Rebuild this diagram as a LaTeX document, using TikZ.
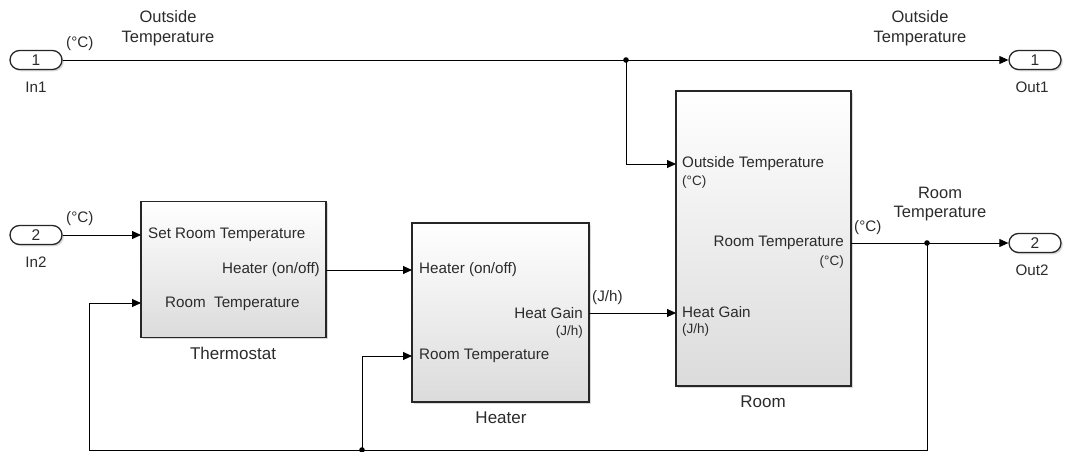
\documentclass[tikz,border=0pt]{standalone}
\usepackage{fontspec}
\setmainfont{Liberation Sans}
\usetikzlibrary{arrows.meta,shadows}
\definecolor{txt}{HTML}{2B2B2B}
\begin{document}
\begin{tikzpicture}[x=1pt,y=-1pt,
  shd/.style={drop shadow={shadow xshift=1.8pt,shadow yshift=-1.8pt,opacity=0.3}},
  blk/.style={draw=black!85, line width=1.2pt, top color=white, bottom color=black!14, shd, inner sep=0pt},
  pill/.style={draw=black!85, line width=1.3pt, rounded corners=9.5pt, minimum width=52pt, minimum height=19pt, fill=white, shd, inner sep=0pt, font=\fontsize{15.5}{15.5}\selectfont, text=txt},
  wire/.style={line width=0.9pt},
  sig/.style={wire, -{Triangle[length=9pt,width=8pt]}},
  port/.style={inner sep=0pt, text=txt, font=\fontsize{15.2}{17}\selectfont},
  unit/.style={inner sep=0pt, text=txt, font=\fontsize{13.5}{15}\selectfont},
  lbl/.style={inner sep=0pt, text=txt, align=center, font=\fontsize{16.5}{19.5}\selectfont},
  bname/.style={inner sep=0pt, text=txt, font=\fontsize{17}{19}\selectfont}]
\useasboundingbox (0,0) rectangle (1065,452);

% blocks
\node[blk, minimum width=185pt, minimum height=136pt] (thermo) at (233.5,269.5) {};
\node[blk, minimum width=177pt, minimum height=179pt] (heater) at (500.5,312.5) {};
\node[blk, minimum width=175pt, minimum height=295pt] (room) at (763.5,238.5) {};

% ports (pills)
\node[pill] (in1) at (36,60) {1};
\node[pill] (in2) at (36,235) {2};
\node[pill] (out1) at (1035,60) {1};
\node[pill] (out2) at (1035,243) {2};
\node[port] (in1l) at (36,87) {In1};
\node[port] (in2l) at (36,262) {In2};
\node[port] (out1l) at (1032,87) {Out1};
\node[port] (out2l) at (1032,270) {Out2};

% block names
\node[bname] (thermoname) at (233,353) {Thermostat};
\node[bname] (heatername) at (501,418) {Heater};
\node[bname] (roomname) at (763,402) {Room};

% port coordinates
\coordinate (pThSet) at (141,235);
\coordinate (pThOut) at (326,270);
\coordinate (pThRT) at (141,303);
\coordinate (pHtIn) at (412,270);
\coordinate (pHtOut) at (589,313);
\coordinate (pHtRT) at (412,356);
\coordinate (pRmOT) at (676,164);
\coordinate (pRmHG) at (676,313);
\coordinate (pRmOut) at (851,243);

% port labels
\node[port, anchor=west] (t1) at (148,235) {Set Room Temperature};
\node[port, anchor=east] (t2) at (320,270) {Heater (on/off)};
\node[port, anchor=west] (t3) at (165,304) {Room~~Temperature};
\node[port, anchor=west] (h1) at (419,270) {Heater (on/off)};
\node[port, anchor=east] (h2) at (583,313) {Heat Gain};
\node[unit, anchor=east] (h3) at (583,332) {(J/h)};
\node[port, anchor=west] (h4) at (419,356) {Room Temperature};
\node[port, anchor=west] (r1) at (682,164) {Outside Temperature};
\node[unit, anchor=west] (r2) at (682,182) {(°C)};
\node[port, anchor=east] (r3) at (844,243) {Room Temperature};
\node[unit, anchor=east] (r4) at (844,262) {(°C)};
\node[port, anchor=west] (r5) at (682,312) {Heat Gain};
\node[unit, anchor=west] (r6) at (682,330) {(J/h)};

% signal labels
\node[lbl] (s1) at (168,28) {Outside\\Temperature};
\node[lbl] (s2) at (920,28) {Outside\\Temperature};
\node[lbl] (s3) at (940,204) {Room\\Temperature};
\node[port, anchor=west] (u1) at (66,44) {(°C)};
\node[port, anchor=west] (u2) at (66,219) {(°C)};
\node[port, anchor=west] (u3) at (854,228) {(°C)};
\node[port, anchor=west] (u4) at (592,298) {(J/h)};

% connectors
\coordinate (b1) at (626,60);
\coordinate (b2) at (927,243);
\coordinate (c1) at (927,450);
\coordinate (c2) at (89,450);
\coordinate (b3) at (362,450);

\draw[sig] (in1.east) -- (out1.west);
\draw[sig] (b1) |- (pRmOT);
\draw[sig] (in2.east) -- (pThSet);
\draw[sig] (pThOut) -- (pHtIn);
\draw[sig] (pHtOut) -- (pRmHG);
\draw[sig] (pRmOut) -- (out2.west);
\draw[sig] (b2) -- (c1) -- (c2) |- (pThRT);
\draw[sig] (b3) |- (pHtRT);

\fill (b1) circle (2.8pt);
\fill (b2) circle (2.8pt);
\fill (b3) circle (2.8pt);
\end{tikzpicture}
\end{document}
